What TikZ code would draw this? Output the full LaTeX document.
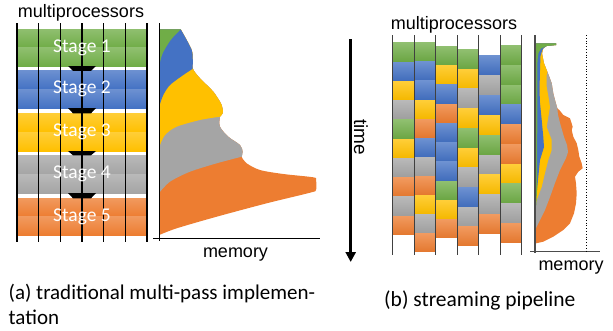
\documentclass[tikz,border=0pt]{standalone}
\usepackage{fontspec}
\setmainfont{Carlito}
\newfontfamily\arialf{Liberation Sans}
\usetikzlibrary{arrows.meta}
\definecolor{cG}{HTML}{70AD47}
\definecolor{cB}{HTML}{4472C4}
\definecolor{cY}{HTML}{FFC000}
\definecolor{cGr}{HTML}{A5A5A5}
\definecolor{cO}{HTML}{ED7D31}
\tikzset{
  lab/.style={font=\arialf\fontsize{18}{21}\selectfont, inner sep=0pt, anchor=base},
  stagetxt/.style={font=\fontsize{19.5}{22}\selectfont, text=white, inner sep=0pt},
  captxt/.style={font=\fontsize{21.5}{25}\selectfont, inner sep=0pt, anchor=base west},
  captxta/.style={captxt, font=\fontsize{21}{25}\selectfont},
  procline/.style={line width=1.2pt, black},
  proclineb/.style={line width=1.3pt, black!75},
  axisline/.style={line width=1pt, black},
}
\newcommand\cellcol[4]{%
  \foreach \c [count=\i from 0] in {#4}{%
    \path[top color=\c!78!white, bottom color=\c!96!black]
      (#1,{#2+\i*#3+0.5}) rectangle ({#1+21.5},{#2+(\i+1)*#3-0.5});
  }%
}
\begin{document}
\begin{tikzpicture}[x=1pt,y=-1pt]
\useasboundingbox (0,0) rectangle (613,330);

% ---------------- panel (a) ----------------
\node[lab] (mpa) at (81,17.5) {multiprocessors};
\foreach \n/\c/\ya/\yb in {1/cG/29/66, 2/cB/70/108, 3/cY/113/151, 4/cGr/155/193, 5/cO/198/235}{
  \path[top color=\c!78!white, bottom color=\c] (17,\ya) rectangle (147,{(\ya+\yb)/2});
  \path[top color=\c!78!white, bottom color=\c] (17,{(\ya+\yb)/2}) rectangle (147,\yb);
}
\foreach \ya/\yb in {66/70.8, 108/113.3, 151/155.3, 193/198.3}{
  \fill[black] (68,\ya) -- (96,\ya) -- (91,\yb) -- (73,\yb) -- cycle;
}
\foreach \x in {17,38.7,60.3,82,103.7,125.3,147}{
  \draw[procline] (\x,23) -- (\x,242);
}
\node[stagetxt] (s1) at (82,47.5) {Stage 1};
\node[stagetxt] (s2) at (82,89) {Stage 2};
\node[stagetxt] (s3) at (82,132) {Stage 3};
\node[stagetxt] (s4) at (82,174) {Stage 4};
\node[stagetxt] (s5) at (82,216.5) {Stage 5};

% memory plot (a)
\fill[cO] (159.3,29.3) -- plot[smooth,tension=0.5] coordinates {(180.7,29.3) (186.7,40) (191.7,50) (192.7,57) (192.7,68.3) (200,78.3) (213.3,91.7) (221.7,105) (222.7,113.3) (220,116.7) (220,126.7) (228.3,136.7) (240,145) (242.7,151.7) (241.7,156.7) (246.7,163.3) (260,170) (283.3,174) (313.3,177.3) (316,180) (316,190) (310,192.7) (266.7,203.3) (216.7,216.7) (176.7,228.3) (159.3,235)} -- cycle;
\fill[cGr] (159.3,29.3) -- plot[smooth,tension=0.5] coordinates {(180.7,29.3) (186.7,40) (191.7,50) (192.7,57) (192.7,68.3) (200,78.3) (213.3,91.7) (221.7,105) (222.7,113.3) (220,116.7) (220,126.7) (228.3,136.7) (240,145) (242.7,151.7) (241.7,156.7)} -- plot[smooth,tension=0.5] coordinates {(241.7,156.7) (216.7,163.3) (190,171.7) (170,181.7) (159.3,192.7)} -- cycle;
\fill[cY] (159.3,29.3) -- plot[smooth,tension=0.5] coordinates {(180.7,29.3) (186.7,40) (191.7,50) (192.7,57) (192.7,68.3) (200,78.3) (213.3,91.7) (221.7,105) (222.7,113.3) (220,116.7)} -- plot[smooth,tension=0.5] coordinates {(220,116.7) (200,120) (176.7,126.7) (165,135) (159.3,146.7)} -- cycle;
\fill[cB] (159.3,29.3) -- plot[smooth,tension=0.5] coordinates {(180.7,29.3) (186.7,40) (191.7,50) (192.7,57) (192.7,68.8)} -- plot[smooth,tension=0.5] coordinates {(192.7,68.8) (183.3,75) (170,85) (163.3,95) (159.3,106)} -- cycle;
\fill[cG] (159.3,29.3) -- (180.7,29.3) -- plot[smooth,tension=0.5] coordinates {(180.7,29.3) (170.7,40) (162.7,53.3) (159.3,65)} -- cycle;
\draw[axisline] (159.3,23) -- (159.3,241);
\draw[axisline] (153,238.3) -- (320,238.3);
\node[lab] (mema) at (235.5,257) {memory};

% ---------------- time arrow ----------------
\coordinate (t0) at (350.7,39);
\coordinate (t1) at (350.7,262);
\draw[line width=3pt, -{Triangle[width=10pt,length=10pt]}] (t0) -- (t1);
\node[font=\arialf\fontsize{19}{22}\selectfont, rotate=-90, inner sep=0pt] (time) at (361,137) {time};

% ---------------- panel (b) ----------------
\node[lab] (mpb) at (454,29) {multiprocessors};
\cellcol{392.7}{42.3}{19.27}{cG,cB,cY,cGr,cG,cY,cGr,cO,cGr,cO}
\cellcol{414.2}{42.3}{19.09}{cG,cB,cB,cY,cO,cB,cGr,cO,cY,cGr,cO}
\cellcol{435.7}{45.7}{19.27}{cG,cY,cB,cO,cB,cB,cB,cG,cY,cO}
\cellcol{457.2}{49}{19.7}{cG,cY,cGr,cY,cG,cY,cGr,cB,cGr,cO}
\cellcol{478.7}{55}{19.9}{cB,cGr,cB,cY,cG,cGr,cY,cGr,cO}
\cellcol{500.2}{45}{19.77}{cG,cG,cG,cB,cO,cO,cY,cG,cGr,cO}
\foreach \x in {392.7,414.2,435.7,457.2,478.7,500.2,521.7}{
  \draw[proclineb] (\x,35) -- (\x,255);
}

% memory plot (b)
\fill[cO] (535,43.3) -- (556,43.3) -- (556,45) -- (546.7,46) -- (543.3,48.3) -- (542,53.3) -- (544,63.3) -- (547.3,71.7) -- (549.3,76.7) -- (551.7,83.3) -- (553.3,93.3) -- (555,100) -- (557.3,108.3) -- (559.3,110) -- (563.3,115) -- (570,118.3) -- (572.7,126.7) -- (571.7,130) -- (573.3,136.7) -- (576.7,143.3) -- (578.3,150) -- (579.3,156.7) -- (581.7,163.3) -- (582.7,168.3) -- (578.3,171.7) -- (575,176.7) -- (576,183.3) -- (576.7,193.3) -- (576,203.3) -- (574,213.3) -- (570,223.3) -- (563.3,230) -- (553.3,236.7) -- (543.3,241.7) -- (536,243.3) -- (535,243.3) -- cycle;
\fill[cGr] (535,43.3) -- (556,43.3) -- (556,45) -- (546.7,46) -- (543.3,48.3) -- (542,53.3) -- (544,63.3) -- (547.3,71.7) -- (549.3,76.7) -- (551.7,83.3) -- (553.3,93.3) -- (555,100) -- (557.3,108.3) -- (558,115) -- (560,123) -- (562,130) -- (564,137) -- (567,145) -- (568,152) -- (566,158) -- (560,170) -- (555,183) -- (550,197) -- (545,210) -- (540,220) -- (535,230) -- cycle;
\fill[cY] (535,43.3) -- (556,43.3) -- (556,45) -- (546.7,46) -- (543.3,48.3) -- (542,53.3) -- (544,63.3) -- (547.3,71.7) -- (546.7,75) -- (546.7,87) -- (548.5,97) -- (550,107) -- (548.3,117) -- (546.7,127) -- (551.7,140) -- (551.7,150) -- (548.3,160) -- (545,173) -- (541.7,187) -- (536.7,200) -- (535,207) -- cycle;
\fill[cB] (535,43.3) -- (556,43.3) -- (556,45) -- (546.7,46) -- (543.3,48.3) -- (542,51) -- (540.5,56) -- (540,70) -- (539.5,90) -- (540,103) -- (541.7,120) -- (543.3,137) -- (544,147) -- (540,160) -- (538.3,177) -- (536.7,193) -- (535,203) -- cycle;
\fill[cG] (535,43.3) -- (556,43.3) -- (556,45) -- (546.7,46) -- (541,48.5) -- (538.5,53) -- (537.5,60) -- (537.3,120) -- (537,190) -- (536.3,205) -- (535,207) -- cycle;
\draw[line width=1.2pt, black!70] (535,35) -- (535,253);
\draw[line width=0.8pt, black!70] (530,251) -- (600,251);
\draw[dotted, line width=0.8pt] (586.7,35) -- (586.7,253);
\node[lab] (memb) at (571,270) {memory};

% ---------------- captions ----------------
\node[captxta] (capa1) at (8.5,299.5) {(a) traditional multi-pass implemen-};
\node[captxta] (capa2) at (8.5,324) {tation};
\node[captxt] (capb) at (384,306) {(b) streaming pipeline};
\end{tikzpicture}
\end{document}
